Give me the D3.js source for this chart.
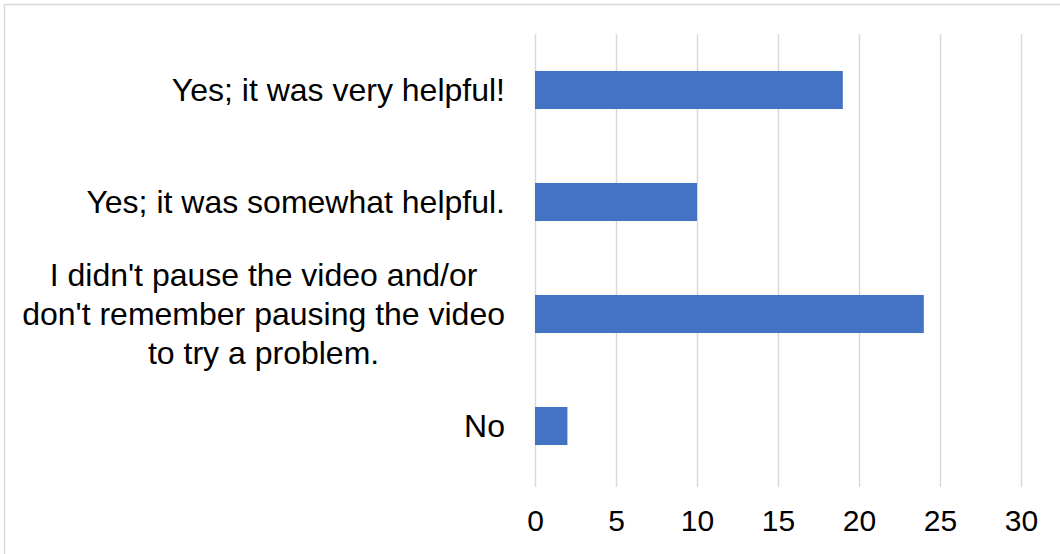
<!DOCTYPE html>
<html><head><meta charset="utf-8">
<script src="https://cdn.jsdelivr.net/npm/d3@7"></script>
<style>body{margin:0;background:#fff}svg{display:block}text{font-family:"Liberation Sans",Arial,sans-serif;fill:#000}</style>
</head><body><svg id="c" width="1060" height="554"></svg>
<script>
const categories = ["Yes; it was very helpful!", "Yes; it was somewhat helpful.", "I didn't pause the video and/or don't remember pausing the video to try a problem.", "No"];
const categoryLines = [["Yes; it was very helpful!"], ["Yes; it was somewhat helpful."], ["I didn't pause the video and/or", "don't remember pausing the video", "to try a problem."], ["No"]];
const values = [19, 10, 24, 2];
const xTicks = [0, 5, 10, 15, 20, 25, 30];

const svg = d3.select("#c");
svg.append("rect").attr("x", 4.5).attr("y", 4.5).attr("width", 1100).attr("height", 600)
  .attr("fill", "#fff").attr("stroke", "#d9d9d9").attr("stroke-width", 1.5);

const x = d3.scaleLinear().domain([0, 30]).range([535, 1021]);
const y = d3.scaleBand().domain(categories).range([34, 482]).paddingInner(0.66).paddingOuter(0.33);

const grid = svg.append("g");
grid.selectAll("line").data(xTicks).join("line")
  .attr("x1", d => Math.round(x(d)) + 0.5).attr("x2", d => Math.round(x(d)) + 0.5)
  .attr("y1", 34).attr("y2", 487).attr("stroke", "#d9d9d9").attr("stroke-width", 1.5);

svg.append("g").selectAll("rect").data(values).join("rect")
  .attr("x", x(0)).attr("y", (d, i) => y(categories[i]))
  .attr("width", d => x(d) - x(0)).attr("height", y.bandwidth())
  .attr("fill", "#4472C4");

const xAxis = d3.axisBottom(x).tickValues(xTicks).tickSize(0).tickPadding(0);
const ax = svg.append("g").attr("transform", "translate(0,531)").call(xAxis);
ax.select(".domain").remove();
ax.selectAll("text").style("font-size", "30px").attr("dy", "0").attr("y", 0)
  .style("font-family", '"Liberation Sans",Arial,sans-serif').attr("fill", "#000");

const lab = svg.append("g");
categories.forEach((c, i) => {
  const lines = categoryLines[i];
  const cy = y(c) + y.bandwidth() / 2;
  const lh = 39;
  const t = lab.append("text").style("font-size", "32px");
  lines.forEach((l, j) => {
    t.append("tspan").text(l).attr("y", cy + (j - (lines.length - 1) / 2) * lh).attr("dy", "0.35em");
  });
  if (lines.length === 1) {
    t.attr("text-anchor", "end").selectAll("tspan").attr("x", 505);
  } else {
    let maxW = 0;
    t.selectAll("tspan").each(function(){ maxW = Math.max(maxW, this.getComputedTextLength()); });
    t.attr("text-anchor", "middle").selectAll("tspan").attr("x", 505 - maxW / 2);
  }
});
</script></body></html>
